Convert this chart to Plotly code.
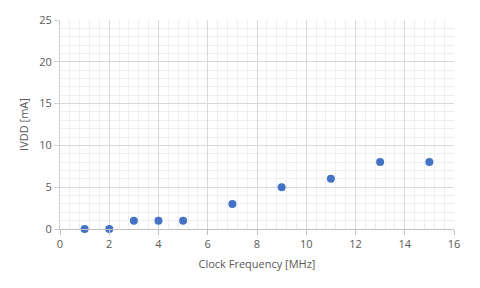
import plotly.graph_objects as go

freq_mhz = [1, 2, 3, 4, 5, 7, 9, 11, 13, 15]
ivdd_ma = [0, 0, 1, 1, 1, 3, 5, 6, 8, 8]

fig = go.Figure()
fig.add_trace(go.Scatter(
    x=freq_mhz, y=ivdd_ma, mode="markers",
    marker=dict(color="#4472C4", size=8, line=dict(width=0)),
    cliponaxis=False, showlegend=False,
))

font = dict(family="Open Sans, Liberation Sans, sans-serif", size=11, color="#595959")
fig.update_layout(
    width=480, height=288,
    margin=dict(l=60, r=26, t=15, b=59),
    paper_bgcolor="white", plot_bgcolor="white",
    font=font,
)
fig.update_xaxes(
    range=[0, 16], dtick=2, tick0=0,
    showgrid=True, gridcolor="#D9D9D9", gridwidth=1,
    minor=dict(dtick=0.4, showgrid=True, gridcolor="#EEEEEE", gridwidth=1),
    showline=True, linecolor="#BFBFBF", linewidth=1, mirror=False,
    ticks="outside", ticklen=5, tickcolor="#BFBFBF",
    zeroline=False,
    title=dict(text="Clock Frequency [MHz]", font=font, standoff=10),
)
fig.update_yaxes(
    range=[0, 25], dtick=5, tick0=0,
    showgrid=True, gridcolor="#D9D9D9", gridwidth=1,
    minor=dict(dtick=1, showgrid=True, gridcolor="#EEEEEE", gridwidth=1),
    showline=True, linecolor="#D0D0D0", linewidth=1,
    ticks="outside", ticklen=5, tickcolor="#D0D0D0",
    zeroline=False,
    title=dict(text="IVDD [mA]", font=font, standoff=8),
)
fig.write_html("out.html")
